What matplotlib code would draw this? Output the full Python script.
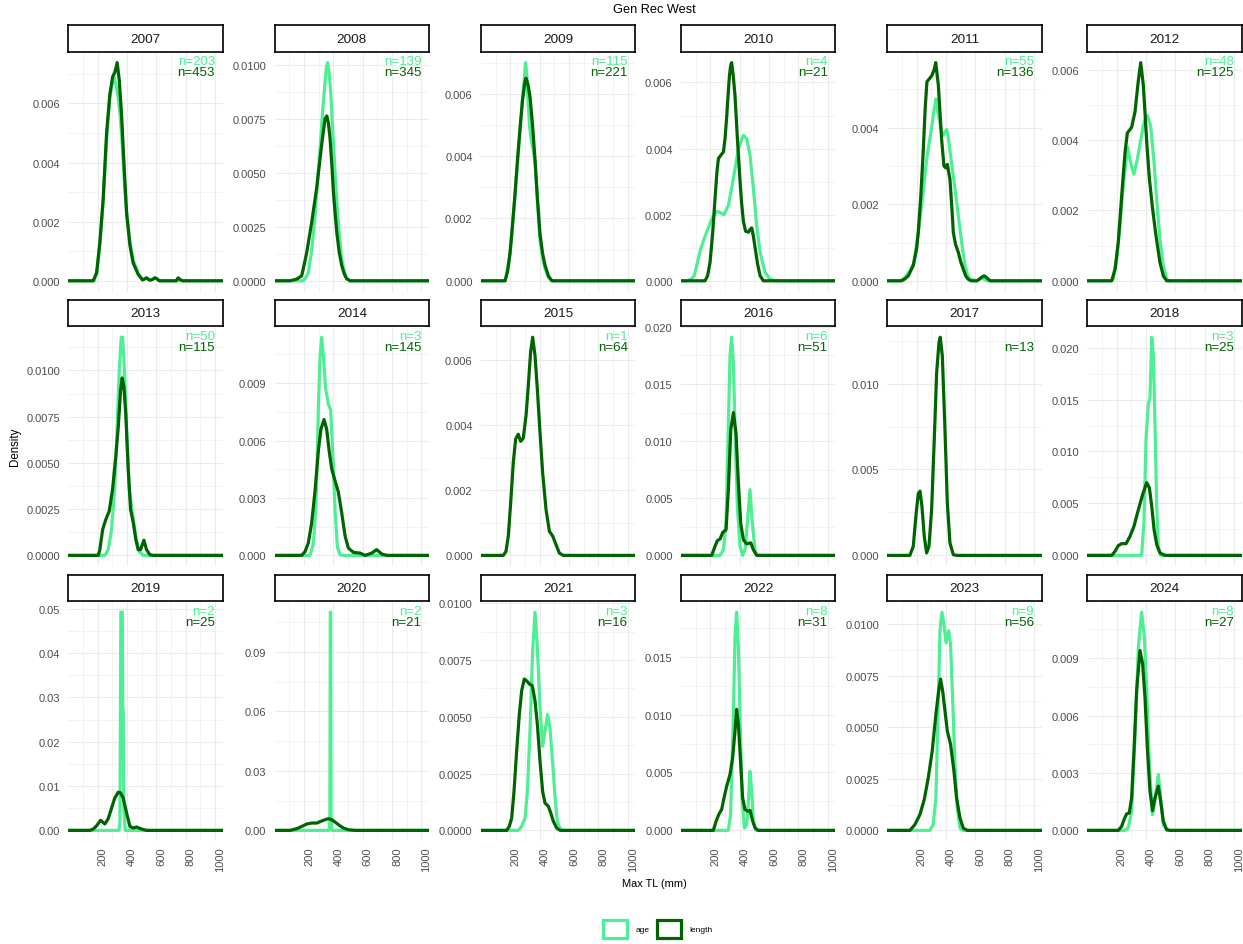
import numpy as np
import matplotlib
matplotlib.use('Agg')
import matplotlib.pyplot as plt
from matplotlib.patches import Patch
from matplotlib.ticker import FixedLocator, AutoMinorLocator

plt.rcParams['font.family'] = ['Liberation Sans', 'DejaVu Sans']

years = list(range(2007, 2025))
n_age = [203, 139, 115, 4, 55, 48, 50, 3, 1, 6, None, 3, 2, 2, 3, 8, 9, 8]
n_length = [453, 345, 221, 21, 136, 125, 115, 145, 64, 51, 13, 25, 25, 21, 16, 31, 56, 27]
# spacing of the density breaks in each facet
y_step = [0.002, 0.0025, 0.002, 0.002, 0.002, 0.002,
          0.0025, 0.003, 0.002, 0.005, 0.005, 0.005,
          0.01, 0.03, 0.0025, 0.005, 0.0025, 0.003]
x_breaks = [200, 400, 600, 800, 1000]

# density curves: (Max TL in mm, density x 1e-3)
age_2007 = [(0, 0), (175, 0), (195, 0.25), (215, 1.2), (238, 2.7), (261, 4.8), (283, 6.2), (302, 6.75),
            (312, 6.9), (325, 6.6), (340, 6.2), (355, 5.5), (370, 4.4), (385, 3.1), (400, 2.2), (420, 1.3),
            (442, 0.7), (476, 0.25), (505, 0.05), (520, 0.06), (533, 0.1), (548, 0.04), (560, 0.02),
            (575, 0.05), (590, 0.1), (603, 0.07), (620, 0), (1060, 0)]
len_2007 = [(0, 0), (170, 0), (193, 0.28), (215, 1.3), (238, 2.8), (261, 5.0), (283, 6.3), (302, 6.9),
            (317, 7.05), (333, 7.38), (347, 6.8), (363, 5.6), (379, 4.0), (397, 2.3), (420, 1.2), (442, 0.6),
            (476, 0.22), (505, 0.03), (520, 0.06), (533, 0.1), (548, 0.04), (560, 0.02), (575, 0.05),
            (590, 0.1), (603, 0.07), (620, 0), (735, 0), (748, 0.1), (762, 0.04), (780, 0), (1060, 0)]

age_2008 = [(0, 0), (195, 0), (212, 0.15), (230, 0.4), (252, 1.4), (275, 3.0), (292, 4.6), (309, 6.1),
            (326, 7.8), (343, 9.2), (353, 9.9), (361, 10.1), (370, 9.7), (382, 8.7), (391, 7.5), (400, 6.4),
            (413, 4.8), (427, 3.3), (442, 2.0), (457, 1.0), (475, 0.4), (490, 0.1), (510, 0), (1060, 0)]
len_2008 = [(0, 0), (105, 0), (150, 0.08), (184, 0.23), (218, 1.3), (252, 2.7), (286, 4.3), (320, 6.3),
            (343, 7.5), (355, 7.63), (366, 7.3), (377, 6.6), (390, 5.3), (400, 4.1), (412, 3.1), (423, 2.24),
            (440, 1.3), (457, 0.7), (475, 0.3), (490, 0.1), (514, 0), (1060, 0)]

age_2009 = [(0, 0), (166, 0), (198, 0.85), (232, 2.75), (266, 4.8), (285, 6.0), (297, 6.6), (304, 7.0),
            (312, 6.6), (320, 5.8), (330, 5.0), (343, 4.5), (355, 4.2), (368, 3.8), (385, 2.5), (402, 1.3),
            (419, 0.75), (436, 0.4), (460, 0.1), (490, 0), (1060, 0)]
len_2009 = [(0, 0), (164, 0), (181, 0.3), (198, 0.9), (215, 1.8), (232, 2.8), (249, 3.9), (266, 4.9),
            (283, 5.8), (300, 6.4), (307, 6.5), (320, 6.3), (334, 5.9), (351, 5.0), (368, 3.9), (385, 2.6),
            (402, 1.5), (419, 0.9), (436, 0.5), (460, 0.15), (482, 0), (1060, 0)]

age_2010 = [(0, 0), (40, 0), (70, 0.05), (90, 0.15), (107, 0.46), (130, 0.9), (152, 1.2), (175, 1.47),
            (209, 1.87), (243, 2.1), (266, 2.07), (293, 2.0), (323, 2.28), (357, 3.1), (391, 4.0), (425, 4.4),
            (448, 4.3), (470, 3.8), (493, 2.8), (516, 1.67), (539, 0.86), (573, 0.25), (607, 0.05), (640, 0),
            (1060, 0)]
len_2010 = [(0, 0), (164, 0), (181, 0.15), (198, 0.56), (215, 1.4), (232, 2.5), (245, 3.3), (255, 3.7),
            (272, 3.8), (289, 3.9), (300, 4.3), (312, 5.0), (322, 5.7), (330, 6.2), (338, 6.5), (345, 6.6),
            (356, 6.2), (368, 5.6), (383, 4.4), (398, 3.3), (412, 2.4), (425, 1.8), (440, 1.5), (459, 1.47),
            (470, 1.55), (482, 1.6), (493, 1.35), (505, 1.0), (522, 0.5), (539, 0.15), (561, 0), (1060, 0)]

age_2011 = [(0, 0), (90, 0), (120, 0.09), (155, 0.26), (182, 0.48), (211, 1.26), (241, 2.2), (268, 3.17),
            (302, 4.0), (320, 4.5), (332, 4.75), (344, 4.4), (355, 4.2), (370, 3.9), (382, 3.8), (395, 3.9),
            (405, 3.95), (416, 3.75), (427, 3.4), (444, 2.9), (461, 2.4), (478, 1.9), (495, 1.35), (512, 0.85),
            (530, 0.4), (547, 0.15), (564, 0.04), (610, 0), (625, 0.04), (643, 0.09), (660, 0.04), (677, 0),
            (1060, 0)]
len_2011 = [(0, 0), (98, 0), (120, 0.05), (143, 0.13), (177, 0.4), (200, 0.85), (211, 1.26), (228, 2.2),
            (245, 3.4), (258, 4.5), (270, 5.2), (302, 5.35), (318, 5.5), (330, 5.7), (348, 5.1), (370, 3.7),
            (386, 3.0), (398, 2.95), (409, 3.04), (427, 2.65), (440, 1.9), (450, 1.26), (465, 0.95),
            (484, 0.74), (500, 0.5), (518, 0.3), (535, 0.12), (552, 0.04), (570, 0), (610, 0), (630, 0.05),
            (645, 0.1), (659, 0.13), (675, 0.09), (700, 0), (1060, 0)]

age_2012 = [(0, 0), (165, 0), (177, 0.05), (200, 0.6), (223, 1.56), (245, 2.7), (275, 3.8), (295, 3.36),
            (318, 3.03), (341, 3.46), (364, 4.0), (386, 4.5), (409, 4.7), (432, 4.4), (455, 3.36), (473, 2.3),
            (495, 1.18), (518, 0.43), (541, 0.05), (560, 0), (1060, 0)]
len_2012 = [(0, 0), (166, 0), (189, 0.33), (211, 1.1), (234, 2.4), (257, 3.65), (273, 4.2), (302, 4.36),
            (325, 4.8), (348, 5.7), (364, 6.2), (382, 5.55), (405, 3.93), (423, 2.9), (445, 2.04), (468, 1.28),
            (495, 0.52), (518, 0.14), (541, 0), (1060, 0)]

age_2013 = [(0, 0), (249, 0), (272, 0.31), (295, 1.4), (317, 3.8), (333, 6.9), (347, 10.0), (361, 11.8),
            (370, 11.8), (383, 10.0), (397, 6.9), (415, 3.6), (437, 2.3), (460, 1.0), (483, 0.22), (510, 0),
            (1060, 0)]
len_2013 = [(0, 0), (204, 0), (215, 0.31), (234, 1.4), (256, 1.95), (279, 2.4), (302, 3.6), (324, 5.4),
            (340, 6.9), (356, 8.9), (367, 9.6), (379, 9.1), (392, 7.6), (408, 4.7), (424, 2.5), (442, 1.8),
            (460, 0.86), (476, 0.31), (492, 0.31), (515, 0.82), (533, 0.31), (556, 0.04), (578, 0),
            (1060, 0)]

age_2014 = [(0, 0), (241, 0), (264, 0.65), (282, 2.7), (298, 7.8), (309, 10.4), (320, 11.4), (332, 10.4),
            (347, 8.7), (366, 7.9), (381, 7.6), (395, 5.5), (411, 2.4), (427, 0.47), (445, 0.03), (468, 0),
            (1060, 0)]
len_2014 = [(0, 0), (184, 0), (207, 0.2), (229, 0.65), (252, 1.7), (275, 3.4), (298, 5.5), (315, 6.6),
            (336, 7.1), (354, 6.6), (372, 5.4), (389, 4.5), (411, 3.9), (434, 3.3), (457, 2.2), (480, 1.0),
            (502, 0.38), (536, 0.16), (582, 0.12), (616, 0), (661, 0.12), (695, 0.3), (730, 0.07), (764, 0),
            (1060, 0)]

age_2015 = []  # a single aged fish, no density drawn
len_2015 = [(0, 0), (152, 0), (170, 0.12), (186, 0.59), (202, 1.6), (220, 2.85), (236, 3.57), (254, 3.72),
            (270, 3.5), (288, 3.6), (307, 4.3), (322, 5.2), (338, 6.24), (352, 6.7), (368, 6.14), (384, 5.1),
            (402, 3.77), (420, 2.54), (443, 1.41), (466, 0.74), (489, 0.59), (511, 0.33), (534, 0.07),
            (561, 0), (1060, 0)]

age_2016 = [(0, 0), (266, 0), (289, 0.5), (307, 2.8), (323, 11.6), (334, 17.5), (345, 19.1), (357, 16.9),
            (370, 10.1), (384, 4.3), (402, 0.8), (420, 0), (436, 0.5), (452, 2.8), (470, 5.76), (486, 2.8),
            (505, 0.35), (520, 0), (1060, 0)]
len_2016 = [(0, 0), (209, 0), (232, 0.8), (248, 1.3), (266, 1.43), (284, 2.0), (307, 2.25), (323, 5.8),
            (339, 11.0), (357, 12.5), (375, 10.7), (391, 6.3), (407, 2.8), (425, 1.37), (448, 1.0),
            (475, 1.1), (493, 0.5), (516, 0), (1060, 0)]

age_2017 = []  # no aged fish
len_2017 = [(0, 0), (154, 0), (177, 0.53), (195, 2.3), (211, 3.6), (223, 3.74), (236, 2.86), (252, 1.1),
            (268, 0.14), (284, 0.53), (302, 2.67), (320, 6.75), (336, 10.6), (352, 12.4), (361, 12.7),
            (375, 11.6), (393, 7.3), (409, 3.05), (427, 0.72), (450, 0.04), (473, 0), (1060, 0)]

age_2018 = [(0, 0), (370, 0), (386, 3.13), (400, 11.2), (416, 14.6), (427, 15.1), (439, 21.0), (450, 19.3),
            (461, 12.8), (473, 4.74), (484, 0.87), (500, 0), (1060, 0)]
len_2018 = [(0, 0), (166, 0), (189, 0.39), (211, 0.94), (234, 1.13), (264, 1.13), (291, 1.84), (318, 2.8),
            (348, 4.4), (377, 5.87), (405, 7.0), (423, 6.5), (439, 4.74), (455, 2.48), (473, 1.03),
            (495, 0.23), (530, 0), (1060, 0)]

age_2019 = [(0, 0), (345, 0), (352, 2.0), (358, 49.2), (368, 49.2), (371, 28.0), (374, 27.0), (378, 5.0),
            (388, 0), (1060, 0)]
len_2019 = [(0, 0), (147, 0), (170, 0.3), (193, 1.06), (220, 2.27), (249, 1.44), (272, 2.64), (295, 5.06),
            (317, 7.33), (340, 8.6), (356, 8.46), (374, 7.33), (397, 3.93), (420, 0.9), (442, 0.53),
            (465, 0.76), (499, 0.3), (533, 0), (1060, 0)]

age_2020 = [(0, 0), (370, 0), (376, 5.0), (379, 110.0), (381, 110.0), (384, 5.0), (390, 0), (1060, 0)]
len_2020 = [(0, 0), (105, 0), (150, 0.84), (184, 2.0), (218, 3.2), (252, 3.7), (286, 3.7), (314, 4.55),
            (343, 5.4), (366, 5.9), (389, 5.4), (411, 4.2), (441, 2.5), (468, 1.2), (502, 0.34), (548, 0),
            (1060, 0)]

age_2021 = [(0, 0), (254, 0), (277, 0.18), (300, 0.54), (316, 1.72), (334, 4.37), (352, 7.9), (368, 9.6),
            (384, 8.05), (402, 5.4), (420, 3.7), (436, 4.37), (454, 5.1), (470, 4.52), (489, 2.9),
            (505, 1.43), (520, 0.4), (539, 0.07), (561, 0), (1060, 0)]
len_2021 = [(0, 0), (175, 0), (193, 0.18), (209, 0.54), (225, 1.72), (243, 3.5), (261, 5.1), (277, 6.14),
            (295, 6.66), (311, 6.58), (330, 6.44), (350, 6.36), (368, 5.7), (384, 4.67), (402, 3.05),
            (420, 1.72), (436, 1.2), (459, 1.06), (475, 0.77), (493, 0.4), (516, 0.1), (539, 0), (1060, 0)]

age_2022 = [(0, 0), (322, 0), (338, 1.36), (357, 10.0), (368, 16.7), (379, 18.84), (391, 15.8),
            (402, 10.0), (416, 2.8), (432, 0.2), (448, 0.49), (461, 2.8), (470, 5.1), (482, 3.38),
            (493, 0.78), (511, 0), (1060, 0)]
len_2022 = [(0, 0), (220, 0), (239, 0.78), (259, 1.42), (277, 1.8), (293, 2.8), (311, 3.8), (334, 4.83),
            (352, 6.27), (368, 8.58), (379, 10.46), (391, 9.16), (407, 5.7), (420, 2.8), (436, 1.8),
            (454, 1.65), (470, 1.73), (489, 0.78), (505, 0.2), (527, 0), (1060, 0)]

age_2023 = [(0, 0), (290, 0), (313, 0.28), (331, 1.57), (347, 6.1), (359, 9.68), (372, 10.57), (386, 10.0),
            (400, 9.1), (418, 9.68), (431, 9.0), (445, 6.43), (461, 3.19), (477, 1.09), (495, 0.11),
            (518, 0), (1060, 0)]
len_2023 = [(0, 0), (154, 0), (188, 0.28), (222, 0.76), (252, 1.5), (279, 2.54), (306, 3.84), (331, 5.62),
            (350, 6.76), (363, 7.33), (377, 6.76), (393, 5.79), (409, 4.81), (431, 4.17), (454, 2.87),
            (472, 1.57), (495, 0.6), (518, 0.11), (545, 0), (1060, 0)]

age_2024 = [(0, 0), (257, 0), (279, 0.12), (302, 1.0), (325, 4.85), (348, 9.58), (370, 11.4), (389, 10.1),
            (405, 7.3), (423, 3.45), (443, 0.82), (461, 1.52), (484, 2.92), (502, 1.52), (518, 0.3),
            (541, 0), (1060, 0)]
len_2024 = [(0, 0), (211, 0), (234, 0.21), (250, 0.56), (268, 0.86), (286, 0.91), (302, 1.7), (318, 4.15),
            (336, 7.3), (359, 9.4), (377, 8.7), (393, 6.95), (409, 4.33), (427, 2.05), (445, 1.03),
            (461, 1.7), (484, 2.31), (500, 1.52), (518, 0.47), (541, 0.04), (564, 0), (1060, 0)]

age_curves = [age_2007, age_2008, age_2009, age_2010, age_2011, age_2012,
              age_2013, age_2014, age_2015, age_2016, age_2017, age_2018,
              age_2019, age_2020, age_2021, age_2022, age_2023, age_2024]
len_curves = [len_2007, len_2008, len_2009, len_2010, len_2011, len_2012,
              len_2013, len_2014, len_2015, len_2016, len_2017, len_2018,
              len_2019, len_2020, len_2021, len_2022, len_2023, len_2024]

AGE_C = '#4EEE94'
LEN_C = '#006400'
TXT_C = '#4D4D4D'

W, H = 1243, 945
fig = plt.figure(figsize=(W / 100, H / 100), dpi=100)

# facet grid in pixels
col_left = [68.3, 274.7, 481.0, 681.0, 887.3, 1087.3]
row_top = [52.7, 327.3, 602.3]
pw, ph, sh = 154.4, 240.0, 26.4


def digits(step):
    d = 0
    while abs(round(step, d) - step) > 1e-12:
        d += 1
    return d


for i, yr in enumerate(years):
    r, c = divmod(i, 6)
    left, top = col_left[c], row_top[r]
    ax = fig.add_axes([left / W, 1 - (top + ph) / H, pw / W, ph / H])

    ymax = 0
    for pts, col in ((age_curves[i], AGE_C), (len_curves[i], LEN_C)):
        if not pts:
            continue
        xs, ys = np.array(pts, dtype=float).T
        ys = ys * 1e-3
        ax.plot(xs, ys, color=col, lw=2.3, solid_joinstyle='round')
        ymax = max(ymax, ys.max())

    ax.set_xlim(0, 1052)
    ax.set_ylim(-0.05 * ymax, 1.05 * ymax)

    step = y_step[i]
    ticks = np.arange(0, 1.05 * ymax, step)
    ax.yaxis.set_major_locator(FixedLocator(ticks))
    ax.set_yticklabels([f'{t:.{digits(step)}f}' for t in ticks])
    ax.yaxis.set_minor_locator(AutoMinorLocator(2))
    ax.xaxis.set_major_locator(FixedLocator(x_breaks))
    ax.xaxis.set_minor_locator(FixedLocator([100, 300, 500, 700, 900]))

    ax.grid(which='major', color='#EBEBEB', lw=0.8)
    ax.grid(which='minor', color='#EBEBEB', lw=0.4)
    ax.set_axisbelow(True)
    for s in ax.spines.values():
        s.set_visible(False)
    ax.tick_params(which='both', length=0)
    ax.tick_params(axis='y', pad=6, labelsize=8, labelcolor=TXT_C)
    ax.tick_params(axis='x', pad=4, labelsize=8, labelcolor=TXT_C)
    if r == 2:
        for lab in ax.get_xticklabels():
            lab.set_rotation(90)
            lab.set_ha('left')
            lab.set_va('top')
    else:
        ax.set_xticklabels([])

    # sample sizes in the top right corner
    tr = ax.get_xaxis_transform()
    if n_age[i] is not None:
        ax.text(1000, 1 - 12.6 / ph, f'n={n_age[i]}', transform=tr, ha='right', va='baseline',
                fontsize=9.6, color=AGE_C)
    ax.text(1000, 1 - 23.3 / ph, f'n={n_length[i]}', transform=tr, ha='right', va='baseline',
            fontsize=9.6, color=LEN_C)

    # facet strip
    sx = fig.add_axes([left / W, 1 - top / H, pw / W, sh / H])
    sx.set_xticks([])
    sx.set_yticks([])
    for s in sx.spines.values():
        s.set_color('black')
        s.set_linewidth(1.2)
    sx.text(0.5, 0.5, str(yr), ha='center', va='center', fontsize=9.7, color='#1A1A1A',
            transform=sx.transAxes)

fig.text(654 / W, 1 - 10 / H, 'Gen Rec West', ha='center', va='center', fontsize=9.2)
fig.text(15 / W, 1 - 447 / H, 'Density', rotation=90, ha='center', va='center', fontsize=8.3)
fig.text(654 / W, 1 - 884 / H, 'Max TL (mm)', ha='center', va='center', fontsize=7.9)

handles = [Patch(facecolor='white', edgecolor=AGE_C, lw=2.3, label='age'),
           Patch(facecolor='white', edgecolor=LEN_C, lw=2.3, label='length')]
fig.legend(handles=handles, loc='center', bbox_to_anchor=(658 / W, 1 - 930 / H), ncol=2,
           frameon=False, fontsize=6, handlelength=2.9, handleheight=2.9,
           handletextpad=1.0, columnspacing=0.9)

fig.savefig('out.png', dpi=100, facecolor='white')
